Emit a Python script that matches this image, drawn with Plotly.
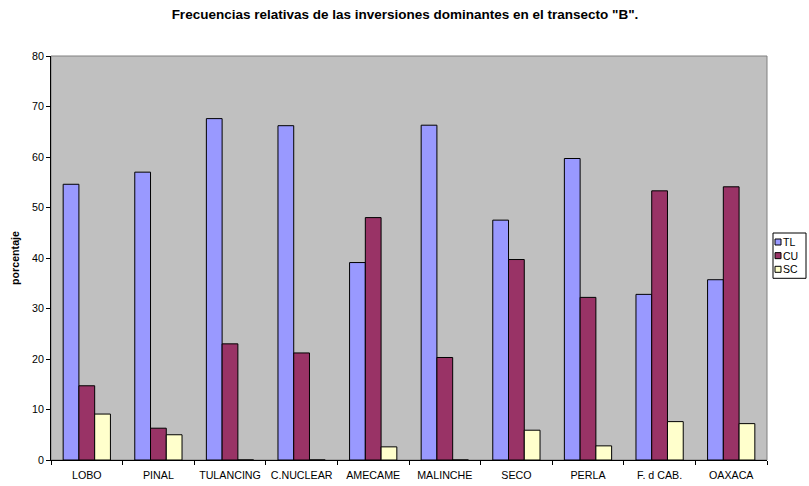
import plotly.graph_objects as go

sitios = ["LOBO", "PINAL", "TULANCING", "C.NUCLEAR", "AMECAME",
          "MALINCHE", "SECO", "PERLA", "F. d CAB.", "OAXACA"]
tl = [54.6, 57.0, 67.6, 66.2, 39.1, 66.3, 47.5, 59.7, 32.8, 35.7]
cu = [14.7, 6.3, 23.0, 21.2, 48.0, 20.3, 39.7, 32.2, 53.3, 54.1]
sc = [9.1, 5.0, 0, 0, 2.6, 0, 5.9, 2.8, 7.6, 7.2]

series = [("TL", tl, "#9999FF"), ("CU", cu, "#993366"), ("SC", sc, "#FFFFCC")]

W, H = 809, 486
ML, MR, MT, MB = 51, 42, 56, 26

fig = go.Figure()
for name, vals, color in series:
    fig.add_trace(go.Bar(
        x=sitios, y=vals, name=name,
        marker=dict(color=color, line=dict(color="black", width=1)),
    ))

font = "Liberation Sans, Arial, sans-serif"
fig.update_layout(
    width=W, height=H,
    margin=dict(l=ML, r=MR, t=MT, b=MB, autoexpand=False),
    paper_bgcolor="white",
    plot_bgcolor="#C0C0C0",
    barmode="group",
    bargap=0.34,
    bargroupgap=0,
    font=dict(family=font, size=10.7, color="black"),
    title=dict(
        text="<b>Frecuencias relativas de las inversiones dominantes en el transecto \"B\".</b>",
        x=405 / W, xanchor="center", xref="container",
        y=1 - 14 / H, yanchor="middle",
        font=dict(family=font, size=13.5),
    ),
    showlegend=False,
    xaxis=dict(
        showgrid=False, showline=True, linecolor="black", linewidth=1,
        ticks="outside", ticklen=4, tickcolor="black",
        tickson="boundaries", tickfont=dict(size=10.7),
        ticklabelstandoff=5, automargin=False,
    ),
    yaxis=dict(
        range=[0, 80], dtick=10, showgrid=False, zeroline=False,
        showline=True, linecolor="black", linewidth=1,
        ticks="outside", ticklen=4, tickcolor="black",
        tickfont=dict(size=10.7), automargin=False,
        title=dict(text="<b>porcentaje</b>", font=dict(size=10.7), standoff=10),
    ),
)

# gray frame around the plot area (top and right edges)
fig.add_shape(type="rect", xref="paper", yref="paper", x0=0, y0=0, x1=1, y1=1,
              line=dict(color="#808080", width=1), layer="below")

# compact legend box on the right
pw = W - ML - MR
ph = H - MT - MB
def px(x):
    return (x - ML) / pw
def py(y):
    return (H - MB - y) / ph

leg_size = 10.5
row = leg_size * 1.3
first = 242
fig.add_shape(type="rect", xref="paper", yref="paper",
              x0=px(773), x1=px(806), y0=py(233), y1=py(first + 2 * row + 9),
              line=dict(color="black", width=1), fillcolor="white")
for i, (name, _, color) in enumerate(series):
    cy = first + i * row
    fig.add_shape(type="rect", xref="paper", yref="paper",
                  x0=px(775), x1=px(781), y0=py(cy + 3), y1=py(cy - 3),
                  line=dict(color="black", width=1), fillcolor=color)
fig.add_annotation(xref="paper", yref="paper", x=px(782), y=py(first + row),
                   text="<br>".join(name for name, _, _ in series),
                   showarrow=False, xanchor="left", yanchor="middle", align="left",
                   font=dict(size=leg_size), borderpad=0)

fig.write_html("out.html")
